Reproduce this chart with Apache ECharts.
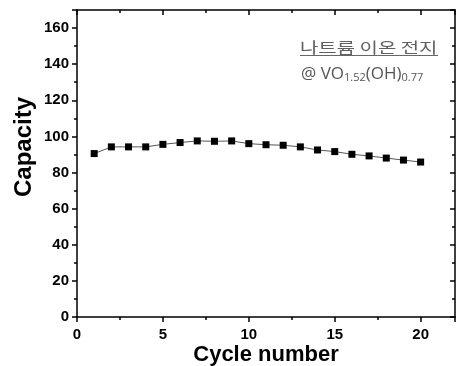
<!DOCTYPE html>
<html>
<head>
<meta charset="utf-8">
<script src="https://cdn.jsdelivr.net/npm/echarts@6/dist/echarts.min.js"></script>
<style>
  html, body { margin: 0; padding: 0; background: #fff; }
  #chart { width: 462px; height: 366px; }
</style>
</head>
<body>
<div id="chart"></div>
<script>
const cycles = [1, 2, 3, 4, 5, 6, 7, 8, 9, 10, 11, 12, 13, 14, 15, 16, 17, 18, 19, 20];
const capacity = [90.5, 94.2, 94.2, 94.2, 95.6, 96.6, 97.5, 97.3, 97.5, 96.0,
                  95.4, 95.1, 94.2, 92.5, 91.6, 90.1, 89.2, 88.0, 86.9, 85.8];
const legendTitle = "나트륨 이온 전지";
const legendFormula = "{a|@ VO}{s|1.52}{a|(OH)}{s|0.77}";

const chart = echarts.init(document.getElementById("chart"));

const tickFont = {
  fontFamily: "Liberation Sans",
  fontWeight: "bold",
  fontSize: 15,
  color: "#000"
};
const axisLine = { show: true, onZero: false, lineStyle: { color: "#000", width: 1.5 } };
const minor = { show: true, splitNumber: 2, length: 3, lineStyle: { color: "#000", width: 1.5 } };

chart.setOption({
  animation: false,
  grid: { left: 77, right: 7, top: 10, bottom: 49, outerBoundsMode: "none" },
  xAxis: [
    {
      type: "value",
      min: 0,
      max: 22,
      interval: 5,
      axisLine: axisLine,
      axisTick: { length: 5, lineStyle: { width: 1.5 } },
      minorTick: minor,
      splitLine: { show: false },
      axisLabel: Object.assign({ margin: 10, showMaxLabel: false }, tickFont),
      name: "Cycle number",
      nameLocation: "middle",
      nameGap: 27,
      nameMoveOverlap: false,
      nameTextStyle: { fontFamily: "Liberation Sans", fontWeight: "bold", fontSize: 22, color: "#000" }
    },
    {
      type: "value",
      position: "top",
      min: 0,
      max: 22,
      interval: 5,
      axisLine: axisLine,
      axisTick: { inside: true, length: 5, lineStyle: { width: 1.5 } },
      minorTick: minor,
      axisLabel: { show: false },
      splitLine: { show: false }
    }
  ],
  yAxis: [
    {
      type: "value",
      min: 0,
      max: 170,
      interval: 20,
      axisLine: axisLine,
      axisTick: { length: 5, lineStyle: { width: 1.5 } },
      minorTick: minor,
      splitLine: { show: false },
      axisLabel: Object.assign({ margin: 8, showMaxLabel: false }, tickFont)
    },
    {
      type: "value",
      position: "right",
      min: 0,
      max: 170,
      interval: 20,
      axisLine: axisLine,
      axisTick: { inside: true, length: 5, lineStyle: { width: 1.5 } },
      minorTick: minor,
      splitLine: { show: false },
      axisLabel: { show: false }
    }
  ],
  graphic: [
    {
      type: "text",
      left: 12,
      top: 97,
      rotation: Math.PI / 2,
      style: {
        text: "Capacity",
        font: "bold 24px 'Liberation Sans'",
        fill: "#000"
      }
    },
    {
      type: "text",
      x: 300,
      y: 40,
      scaleX: 1.33,
      style: {
        text: legendTitle,
        font: "15px 'Noto Sans CJK KR'",
        fill: "#606060"
      }
    },
    {
      type: "line",
      shape: { x1: 300, y1: 55.5, x2: 438, y2: 55.5 },
      style: { stroke: "#666", lineWidth: 1 }
    },
    {
      type: "text",
      x: 301,
      y: 61,
      style: {
        text: legendFormula,
        fill: "#555",
        rich: {
          a: { fontFamily: "Open Sans", fontSize: 17, color: "#555", lineHeight: 22, verticalAlign: "bottom" },
          s: { fontFamily: "Open Sans", fontSize: 11, color: "#555", lineHeight: 11, padding: [14, 0, 0, 0], verticalAlign: "bottom" }
        }
      }
    }
  ],
  series: [
    {
      type: "line",
      data: cycles.map((c, i) => [c, capacity[i]]),
      symbol: "rect",
      symbolSize: 7,
      itemStyle: { color: "#000" },
      lineStyle: { color: "#555", width: 1 }
    }
  ]
});
</script>
</body>
</html>
